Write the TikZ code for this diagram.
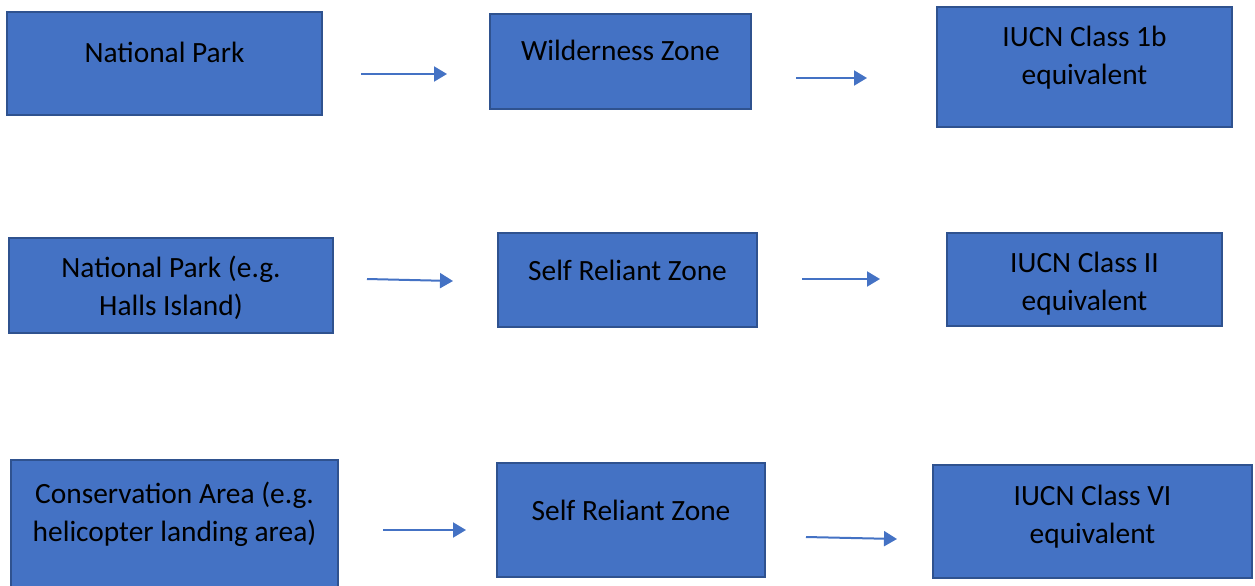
\documentclass[tikz,border=0pt]{standalone}
\usepackage{fontspec}
\setmainfont{Carlito}
\usetikzlibrary{arrows.meta}
\definecolor{boxblue}{HTML}{4472C4}
\definecolor{boxedge}{HTML}{2F528F}
\begin{document}
\begin{tikzpicture}[x=0.5pt,y=-0.5pt,
  zone/.style={draw=boxedge,fill=boxblue,line width=1pt,inner sep=0pt},
  zonetext/.style={align=center,font=\fontsize{14.7}{19}\selectfont,inner sep=0pt},
  flow/.style={draw=boxblue,line width=1pt,-{Triangle[length=6.5pt,width=7.5pt]}}]
  \clip (0,0) rectangle (1255,585);
  % first row
  \node[zone,minimum width=157.5pt,minimum height=51.5pt] (park) at (164.5,63.5) {};
  \node[zonetext] (park-t) at (164.5,52) {National Park};
  \node[zone,minimum width=130.5pt,minimum height=47.5pt] (wild) at (620.5,61.5) {};
  \node[zonetext] (wild-t) at (620.5,50) {Wilderness Zone};
  \node[zone,minimum width=147.5pt,minimum height=60pt] (iucnIb) at (1084.5,67) {};
  \node[zonetext] (iucnIb-t) at (1084.5,58) {IUCN Class 1b\\equivalent};
  \coordinate (a1) at (361,74);  \coordinate (b1) at (447,74);
  \coordinate (a2) at (796,78);  \coordinate (b2) at (867,78);
  \draw[flow] (a1)--(b1);
  \draw[flow] (a2)--(b2);
  % second row
  \node[zone,minimum width=162pt,minimum height=47.5pt] (halls) at (171,285.5) {};
  \node[zonetext] (halls-t) at (171,288) {National Park (e.g.\\Halls Island)};
  \node[zone,minimum width=129.5pt,minimum height=47pt] (self1) at (627.5,280) {};
  \node[zonetext] (self1-t) at (627.5,270) {Self Reliant Zone};
  \node[zone,minimum width=137.5pt,minimum height=46.5pt] (iucnII) at (1084.5,279.5) {};
  \node[zonetext] (iucnII-t) at (1084.5,284) {IUCN Class II\\equivalent};
  \coordinate (a3) at (367,279);  \coordinate (b3) at (453,281);
  \coordinate (a4) at (802,279);  \coordinate (b4) at (880,279);
  \draw[flow] (a3)--(b3);
  \draw[flow] (a4)--(b4);
  % third row
  \node[zone,minimum width=163.5pt,minimum height=70pt] (heli) at (174.5,530) {};
  \node[zonetext] (heli-t) at (174.5,514.5) {Conservation Area (e.g.\\helicopter landing area)};
  \node[zone,minimum width=134pt,minimum height=57pt] (self2) at (631,520) {};
  \node[zonetext] (self2-t) at (631,510) {Self Reliant Zone};
  \node[zone,minimum width=159.5pt,minimum height=56.5pt] (iucnVI) at (1092.5,521.5) {};
  \node[zonetext] (iucnVI-t) at (1092.5,516.5) {IUCN Class VI\\equivalent};
  \coordinate (a5) at (383,530);  \coordinate (b5) at (466,530);
  \coordinate (a6) at (806,537);  \coordinate (b6) at (897,539);
  \draw[flow] (a5)--(b5);
  \draw[flow] (a6)--(b6);
\end{tikzpicture}
\end{document}
